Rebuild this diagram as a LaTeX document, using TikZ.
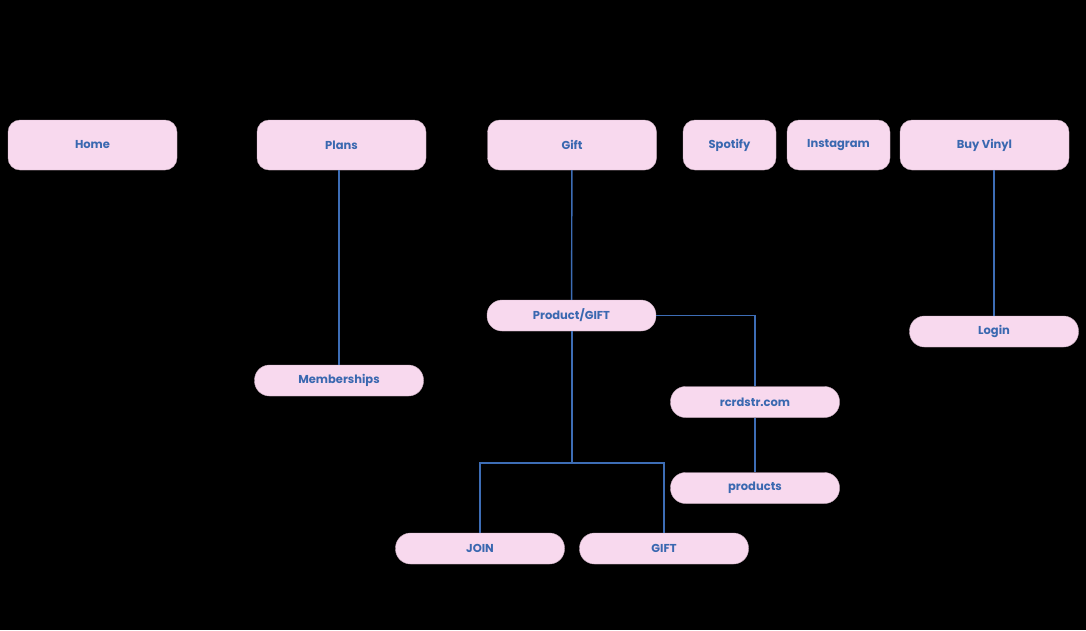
\documentclass[tikz,border=0pt]{standalone}
\usepackage{fontspec}
\setmainfont{Poppins}
\definecolor{boxpink}{HTML}{F8D9EE}
\definecolor{boxedge}{HTML}{C9AFC0}
\definecolor{textblue}{HTML}{3A68B0}
\definecolor{lineblue}{HTML}{3D6DB5}
\begin{document}
\begin{tikzpicture}[x=1pt, y=-1pt,
  topbox/.style={rectangle, draw=boxedge, line width=0.4pt, fill=boxpink, rounded corners=12pt, minimum height=50pt, minimum width=169pt, inner sep=0pt, text=textblue, font=\bfseries\fontsize{11.5}{13}\selectfont},
  smallbox/.style={topbox, minimum height=31pt, rounded corners=15pt},
  link/.style={draw=lineblue, line width=1.4pt}]
  % Background
  \fill[black] (0,0) rectangle (1086,630);
  \useasboundingbox (0,0) rectangle (1086,630);
  % Nodes
  \node (home) [topbox] at (92.5, 145) {Home};
  \node (plans) [topbox] at (341.5, 145) {Plans};
  \node (gift) [topbox] at (572, 145) {Gift};
  \node (spotify) [topbox, minimum width=93pt] at (729.5, 145) {Spotify};
  \node (insta) [topbox, minimum width=103pt] at (838.5, 145) {Instagram};
  \node (vinyl) [topbox] at (984.5, 145) {Buy Vinyl};
  \node (prodgift) [smallbox] at (571.5, 315.5) {Product/GIFT};
  \node (members) [smallbox] at (339, 380.5) {Memberships};
  \node (login) [smallbox] at (994, 331.5) {Login};
  \node (rcrdstr) [smallbox] at (755, 402) {rcrdstr.com};
  \node (products) [smallbox] at (755, 488) {products};
  \node (join) [smallbox] at (480, 548.5) {JOIN};
  \node (giftsub) [smallbox] at (664, 548.5) {GIFT};
  % Links
  \coordinate (split) at (572, 463);
  \draw[link] (plans.south -| members.north) -- (members.north);
  \draw[link] (gift) -- (prodgift);
  \draw[link] (vinyl.south -| login.north) -- (login.north);
  \draw[link] (prodgift.east) -| (rcrdstr.north);
  \draw[link] (rcrdstr) -- (products);
  \draw[link] (prodgift.south -| split) -- (split);
  \draw[link] (split) -| (join.north);
  \draw[link] (split) -| (giftsub.north);
\end{tikzpicture}
\end{document}
